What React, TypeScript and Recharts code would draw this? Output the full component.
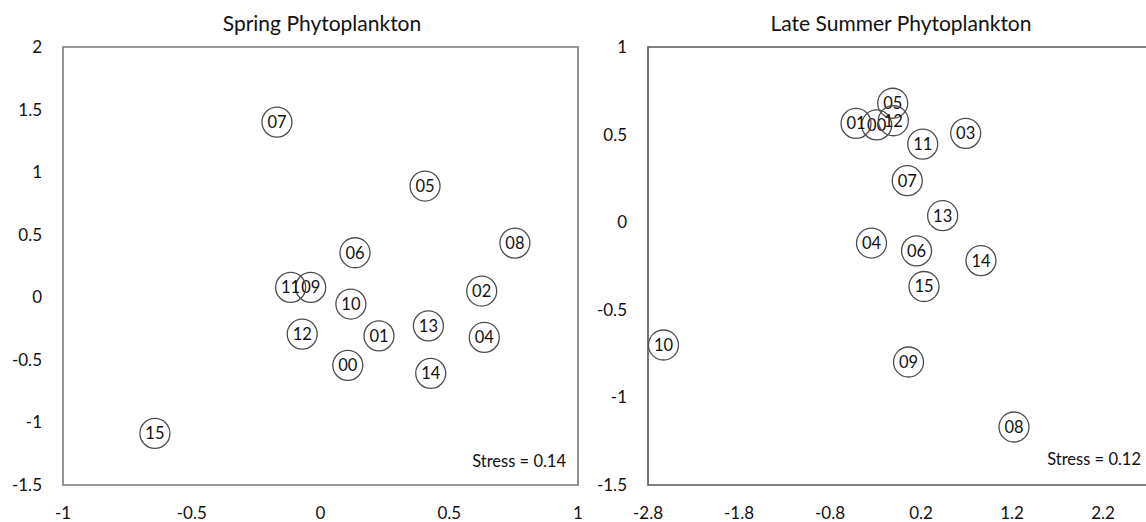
import React from 'react';
import { ScatterChart, Scatter, XAxis, YAxis, ReferenceArea } from 'recharts';

// Spring NMDS site scores
const springLabels = ['00', '01', '02', '04', '05', '06', '07', '08', '09', '10', '11', '12', '13', '14', '15'];
const springX = [0.106, 0.227, 0.626, 0.636, 0.406, 0.134, -0.169, 0.755, -0.038, 0.118, -0.116, -0.071, 0.419, 0.428, -0.643];
const springY = [-0.544, -0.308, 0.05, -0.321, 0.889, 0.356, 1.4, 0.433, 0.079, -0.054, 0.079, -0.294, -0.228, -0.608, -1.088];
const springXTicks = [-1, -0.5, 0, 0.5, 1];
const springYTicks = [-1.5, -1, -0.5, 0, 0.5, 1, 1.5, 2];

// Late summer NMDS site scores
const summerLabels = ['00', '01', '03', '04', '05', '06', '07', '08', '09', '10', '11', '12', '13', '14', '15'];
const summerX = [-0.287, -0.514, 0.691, -0.344, -0.111, 0.151, 0.049, 1.222, 0.063, -2.63, 0.219, -0.104, 0.438, 0.859, 0.233];
const summerY = [0.555, 0.564, 0.507, -0.119, 0.679, -0.164, 0.237, -1.169, -0.798, -0.701, 0.446, 0.579, 0.037, -0.219, -0.367];
const summerXTicks = [-2.8, -1.8, -0.8, 0.2, 1.2, 2.2];
const summerYTicks = [-1.5, -1, -0.5, 0, 0.5, 1];

const FONT = 'Lato, "Open Sans", sans-serif';

const toPoints = (labels: string[], xs: number[], ys: number[]) =>
    labels.map((name, i) => ({ name, x: xs[i], y: ys[i] }));

const springData = toPoints(springLabels, springX, springY);
const summerData = toPoints(summerLabels, summerX, summerY);

const SiteMarker = (props: any) => {
    const { cx, cy, payload } = props;
    if (cx == null || cy == null) return null;
    return (
        <g>
            <circle cx={cx} cy={cy} r={15} fill="none" stroke="#4d4d4d" strokeWidth={1.3} />
            <text
                x={cx}
                y={cy}
                dy="0.36em"
                textAnchor="middle"
                fontSize={16.5}
                fontFamily={FONT}
                fill="#111"
            >
                {payload.name}
            </text>
        </g>
    );
};

const tickStyle = { fontSize: 17, fill: '#111', fontFamily: FONT };

interface PanelProps {
    data: { name: string; x: number; y: number }[];
    xDomain: [number, number];
    yDomain: [number, number];
    xTicks: number[];
    yTicks: number[];
    width: number;
    left: number;
    boxColor: string;
}

function Panel({ data, xDomain, yDomain, xTicks, yTicks, width, left, boxColor }: PanelProps) {
    return (
        <div style={{ position: 'absolute', left, top: 0 }}>
            <ScatterChart width={width} height={522} margin={{ top: 47, right: 12, bottom: 0, left: 0 }}>
                <XAxis
                    type="number"
                    dataKey="x"
                    domain={xDomain}
                    ticks={xTicks}
                    interval={0}
                    allowDataOverflow
                    axisLine={false}
                    tickLine={false}
                    tickSize={0}
                    tickMargin={22}
                    height={37}
                    tick={tickStyle}
                />
                <YAxis
                    type="number"
                    dataKey="y"
                    domain={yDomain}
                    ticks={yTicks}
                    interval={0}
                    allowDataOverflow
                    axisLine={false}
                    tickLine={false}
                    tickSize={0}
                    tickMargin={21}
                    width={63}
                    tick={tickStyle}
                />
                <ReferenceArea
                    x1={xDomain[0]}
                    x2={xDomain[1]}
                    y1={yDomain[0]}
                    y2={yDomain[1]}
                    fill="none"
                    fillOpacity={0}
                    stroke={boxColor}
                    strokeWidth={1.6}
                    ifOverflow="visible"
                />
                <Scatter data={data} shape={SiteMarker} isAnimationActive={false} />
            </ScatterChart>
        </div>
    );
}

const titleStyle: React.CSSProperties = {
    position: 'absolute',
    top: 12,
    width: 400,
    textAlign: 'center',
    fontSize: 21,
    lineHeight: 1,
    color: '#111',
    fontFamily: FONT,
    whiteSpace: 'nowrap',
};

const stressStyle: React.CSSProperties = {
    position: 'absolute',
    width: 200,
    textAlign: 'right',
    fontSize: 16.5,
    lineHeight: 1,
    color: '#111',
    fontFamily: FONT,
    whiteSpace: 'nowrap',
};

export default function App() {
    return (
        <div
            style={{
                position: 'fixed',
                left: 0,
                top: 0,
                width: 1146,
                height: 522,
                overflow: 'hidden',
                background: '#fff',
            }}
        >
            <Panel
                data={springData}
                xDomain={[-1, 1]}
                yDomain={[-1.5, 2]}
                xTicks={springXTicks}
                yTicks={springYTicks}
                width={590}
                left={0}
                boxColor="#7a7a7a"
            />
            <Panel
                data={summerData}
                xDomain={[-2.8, 3.2]}
                yDomain={[-1.5, 1]}
                xTicks={summerXTicks}
                yTicks={summerYTicks}
                width={621}
                left={585}
                boxColor="#555"
            />
            <div style={{ ...titleStyle, left: 322 - 200 }}>Spring Phytoplankton</div>
            <div style={{ ...titleStyle, left: 901 - 200 }}>Late Summer Phytoplankton</div>
            <div style={{ ...stressStyle, left: 566 - 200, top: 453 }}>Stress = 0.14</div>
            <div style={{ ...stressStyle, left: 1141 - 200, top: 451 }}>Stress = 0.12</div>
        </div>
    );
}
